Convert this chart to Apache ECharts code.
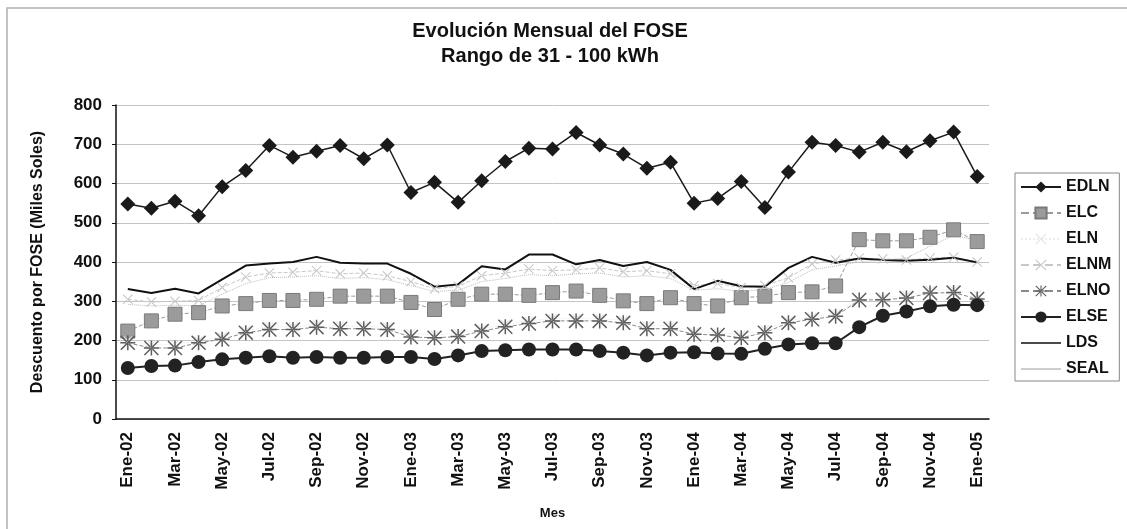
<!DOCTYPE html>
<html>
<head>
<meta charset="utf-8">
<script src="https://cdn.jsdelivr.net/npm/echarts@6/dist/echarts.min.js"></script>
<style>
  html, body { margin: 0; padding: 0; background: #fff; }
  #chart { width: 1127px; height: 529px; }
</style>
</head>
<body>
<div id="chart"></div>
<script>
// meses Ene-02 .. Ene-05
var meses = ['Ene-02','Feb-02','Mar-02','Abr-02','May-02','Jun-02','Jul-02','Ago-02','Sep-02','Oct-02','Nov-02','Dic-02',
             'Ene-03','Feb-03','Mar-03','Abr-03','May-03','Jun-03','Jul-03','Ago-03','Sep-03','Oct-03','Nov-03','Dic-03',
             'Ene-04','Feb-04','Mar-04','Abr-04','May-04','Jun-04','Jul-04','Ago-04','Sep-04','Oct-04','Nov-04','Dic-04',
             'Ene-05'];

var edln = [548,537,555,518,592,633,697,667,682,697,663,698,577,603,552,607,656,690,688,730,698,675,639,654,550,562,605,539,629,705,697,680,705,681,709,731,618];
var elc  = [224,250,267,271,288,294,302,302,305,313,313,313,297,279,305,318,318,315,322,326,315,301,294,309,294,288,309,313,322,324,339,457,454,454,463,482,452];
var eln  = [200,190,190,200,210,225,235,235,240,238,236,235,218,215,218,230,242,250,256,256,256,252,238,238,222,220,215,228,250,260,268,305,310,315,328,330,318];
var elnm = [305,298,300,302,335,362,372,374,378,370,372,365,350,332,338,365,372,382,378,380,385,375,378,370,340,345,335,340,360,395,405,410,408,405,410,412,400];
var elno = [194,181,181,194,203,220,228,228,234,230,230,228,209,207,210,224,235,243,250,250,250,245,230,230,216,214,207,220,245,254,262,303,304,308,321,322,306];
var else_ = [130,135,136,145,152,156,160,156,158,156,156,158,158,153,162,173,175,177,177,177,173,169,162,169,170,167,166,179,190,193,193,234,263,274,287,291,290];
var lds  = [331,321,332,320,356,391,396,400,413,398,396,396,370,337,343,389,381,419,419,394,405,390,400,380,331,352,338,337,385,413,398,409,405,403,406,411,399];
var seal = [292,288,290,288,318,345,360,362,365,358,360,355,340,325,328,350,358,368,365,370,372,362,365,358,328,332,325,330,348,380,390,400,405,410,440,468,455];

var asterisco = 'path://M9,0L11,0L11,20L9,20Z M0,9L20,9L20,11L0,11Z M1.4,0L0,1.4L18.6,20L20,18.6Z M18.6,0L20,1.4L1.4,20L0,18.6Z';
var cruz = 'path://M1.4,0L0,1.4L18.6,20L20,18.6Z M18.6,0L20,1.4L1.4,20L0,18.6Z';
// icono de leyenda: solo una linea fina
var linea = 'path://M0,0L0.01,0L0.01,0.01Z M0,6.2L40,6.2L40,7.8L0,7.8Z M0,14L0.01,14L0.01,14.01Z';

var chart = echarts.init(document.getElementById('chart'), null, { renderer: 'canvas' });

var option = {
    backgroundColor: '#fff',
    animation: false,
    textStyle: { fontFamily: 'Liberation Sans, Arial, sans-serif' },
    title: {
        text: 'Evolución Mensual del FOSE\nRango de 31 - 100 kWh',
        left: 545,
        textAlign: 'center',
        top: 14,
        textStyle: { fontSize: 20, fontWeight: 'bold', color: '#111', lineHeight: 25 }
    },
    graphic: [{
        type: 'polyline',
        shape: { points: [[7, 529], [7, 8], [1127, 8]] },
        style: { stroke: '#b0b0b0', lineWidth: 1.5, fill: null },
        silent: true
    }],
    legend: {
        orient: 'vertical',
        left: 1015,
        top: 173,
        padding: [6, 8, 4, 5],
        itemGap: 10,
        itemWidth: 40,
        itemHeight: 14,
        backgroundColor: '#fff',
        borderColor: '#888',
        borderWidth: 1,
        textStyle: { fontSize: 16, fontWeight: 'bold', color: '#111', lineHeight: 16 },
        data: ['EDLN', 'ELC', 'ELN', 'ELNM', 'ELNO', 'ELSE',
               { name: 'LDS', icon: linea },
               { name: 'SEAL', icon: linea }]
    },
    grid: { left: 116, right: 138, top: 105, bottom: 110 },
    xAxis: {
        type: 'category',
        data: meses,
        boundaryGap: true,
        name: 'Mes',
        nameLocation: 'middle',
        nameGap: 88,
        nameTextStyle: { fontSize: 13, fontWeight: 'bold', color: '#111' },
        axisLine: { lineStyle: { color: '#111', width: 1.5 } },
        axisTick: { interval: 1, length: 4, lineStyle: { color: '#111' } },
        axisLabel: { interval: 1, rotate: 90, fontSize: 17, fontWeight: 'bold', color: '#111', margin: 13 },
        splitLine: { show: false }
    },
    yAxis: {
        type: 'value',
        min: 0,
        max: 800,
        interval: 100,
        name: 'Descuento por FOSE (Miles Soles)',
        nameLocation: 'middle',
        nameGap: 70,
        nameRotate: 90,
        nameTextStyle: { fontSize: 16, fontWeight: 'bold', color: '#111' },
        axisLine: { show: true, lineStyle: { color: '#111', width: 1.5 } },
        axisTick: { show: true, length: 4, lineStyle: { color: '#111' } },
        axisLabel: { fontSize: 17, fontWeight: 'bold', color: '#111', margin: 14 },
        splitLine: { show: true, lineStyle: { color: '#c4c4c4', width: 1 } }
    },
    series: [
        {
            name: 'EDLN', type: 'line', data: edln,
            symbol: 'diamond', symbolSize: 15,
            itemStyle: { color: '#1a1a1a' },
            lineStyle: { color: '#1a1a1a', width: 1.5 }
        },
        {
            name: 'ELC', type: 'line', data: elc,
            symbol: 'rect', symbolSize: 14,
            itemStyle: { color: '#9b9b9b', borderColor: '#7a7a7a', borderWidth: 1 },
            lineStyle: { color: '#9b9b9b', width: 1, type: 'dashed' }
        },
        {
            name: 'ELN', type: 'line', data: eln,
            symbol: cruz, symbolSize: 9,
            itemStyle: { color: '#e2e2e2' },
            lineStyle: { color: '#ececec', width: 1, type: 'dotted' }
        },
        {
            name: 'ELNM', type: 'line', data: elnm,
            symbol: cruz, symbolSize: 10,
            itemStyle: { color: '#c4c4c4' },
            lineStyle: { color: '#c8c8c8', width: 1, type: 'dashed' }
        },
        {
            name: 'ELNO', type: 'line', data: elno,
            symbol: asterisco, symbolSize: 15,
            itemStyle: { color: '#5e5e5e' },
            lineStyle: { color: '#8a8a8a', width: 1, type: 'dashed' }
        },
        {
            name: 'ELSE', type: 'line', data: else_,
            symbol: 'circle', symbolSize: 14,
            itemStyle: { color: '#222' },
            lineStyle: { color: '#222', width: 2 }
        },
        {
            name: 'LDS', type: 'line', data: lds,
            symbol: 'none',
            itemStyle: { color: '#111' },
            lineStyle: { color: '#111', width: 2 }
        },
        {
            name: 'SEAL', type: 'line', data: seal,
            symbol: 'none',
            itemStyle: { color: '#bdbdbd' },
            lineStyle: { color: '#bdbdbd', width: 1, type: 'dotted' }
        }
    ]
};

chart.setOption(option);
</script>
</body>
</html>
